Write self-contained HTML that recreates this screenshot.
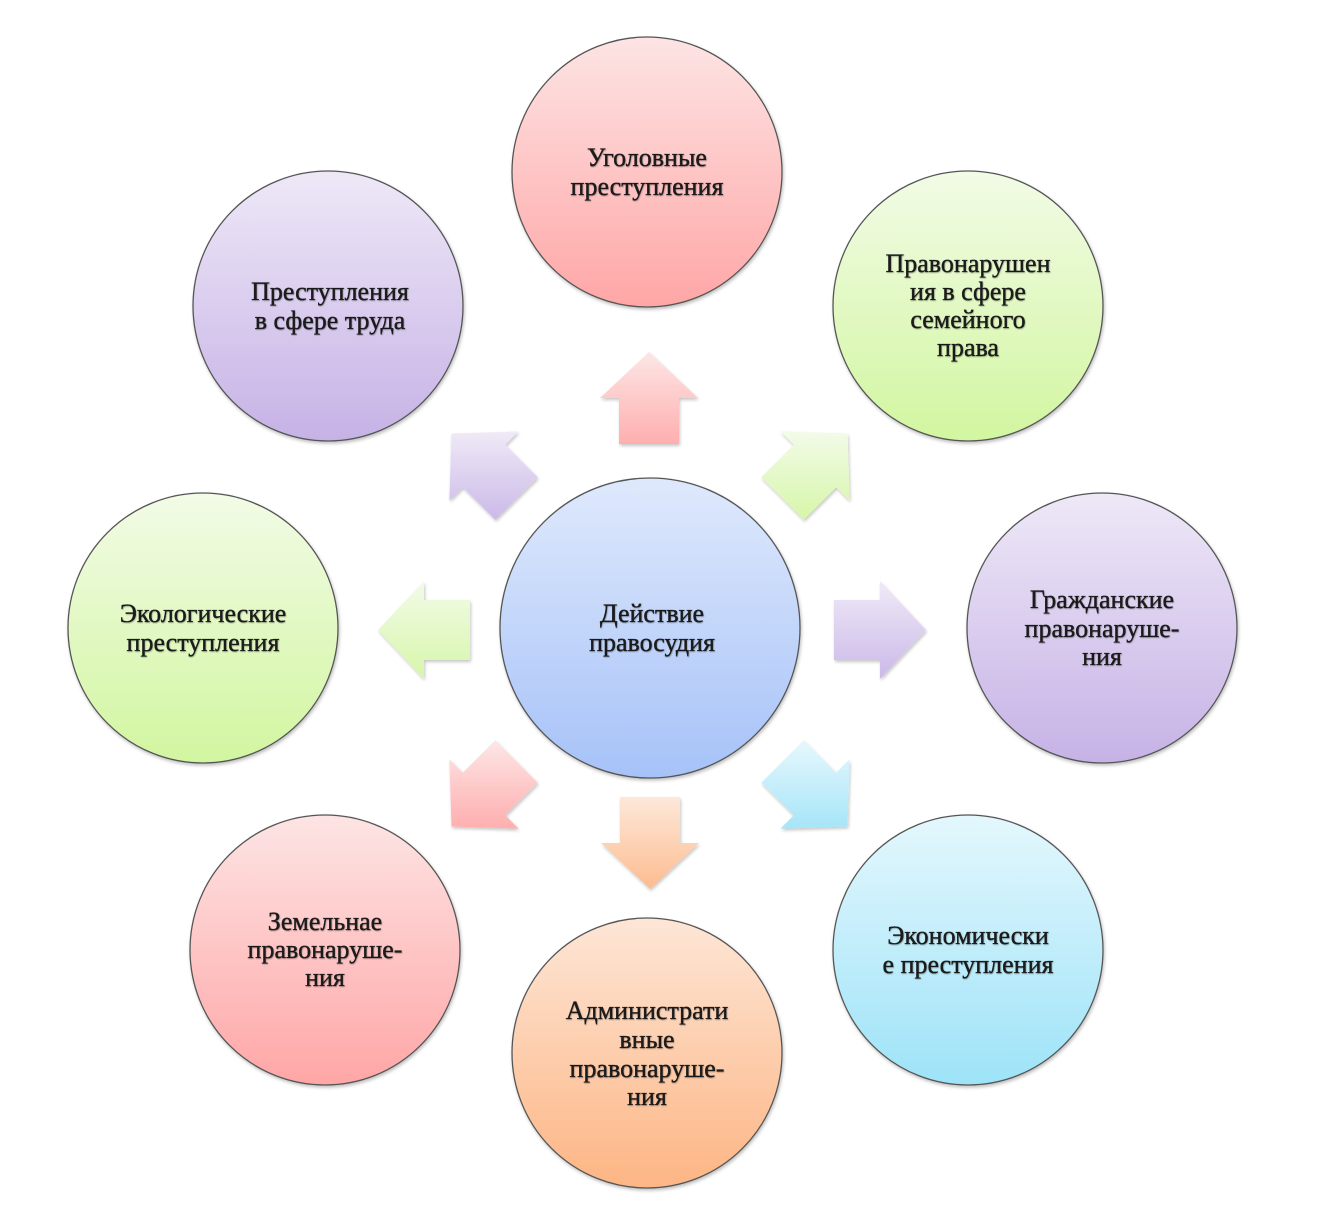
<!DOCTYPE html>
<html><head><meta charset="utf-8"><style>
html,body{margin:0;padding:0;background:#fff;}
svg{display:block;}
text{font-family:"Liberation Serif",serif;font-size:26px;fill:#1a1a1a;stroke:#1a1a1a;stroke-width:0.35px;text-anchor:middle;}
</style></head><body>
<svg width="1321" height="1232" viewBox="0 0 1321 1232" xmlns="http://www.w3.org/2000/svg">
<defs>
<linearGradient id="pink" x1="0" y1="0" x2="0" y2="1"><stop offset="0" stop-color="#fde4e4"/><stop offset="1" stop-color="#ffa6a6"/></linearGradient>
<linearGradient id="green" x1="0" y1="0" x2="0" y2="1"><stop offset="0" stop-color="#f2fbe6"/><stop offset="1" stop-color="#d2f6a0"/></linearGradient>
<linearGradient id="purple" x1="0" y1="0" x2="0" y2="1"><stop offset="0" stop-color="#eee8f7"/><stop offset="1" stop-color="#c6b2e6"/></linearGradient>
<linearGradient id="blue" x1="0" y1="0" x2="0" y2="1"><stop offset="0" stop-color="#dfe9fc"/><stop offset="1" stop-color="#a6c2f8"/></linearGradient>
<linearGradient id="cyan" x1="0" y1="0" x2="0" y2="1"><stop offset="0" stop-color="#e4f7fd"/><stop offset="1" stop-color="#9de3f8"/></linearGradient>
<linearGradient id="orange" x1="0" y1="0" x2="0" y2="1"><stop offset="0" stop-color="#fde6d6"/><stop offset="1" stop-color="#fdb584"/></linearGradient>
<filter id="sh" x="-10%" y="-10%" width="120%" height="120%"><feDropShadow dx="1" dy="2" stdDeviation="1.5" flood-color="#000" flood-opacity="0.25"/></filter>
<filter id="ts"><feDropShadow dx="0.6" dy="0.8" stdDeviation="0.6" flood-color="#000" flood-opacity="0.35"/></filter>
</defs>
<g stroke="#555" stroke-width="1.3" filter="url(#sh)">
<circle cx="647" cy="172" r="135" fill="url(#pink)"/>
<circle cx="968" cy="306" r="135" fill="url(#green)"/>
<circle cx="1102" cy="628" r="135" fill="url(#purple)"/>
<circle cx="968" cy="950" r="135" fill="url(#cyan)"/>
<circle cx="647" cy="1053" r="135" fill="url(#orange)"/>
<circle cx="325" cy="950" r="135" fill="url(#pink)"/>
<circle cx="203" cy="628" r="135" fill="url(#green)"/>
<circle cx="328" cy="306" r="135" fill="url(#purple)"/>
<circle cx="650" cy="628" r="150" fill="url(#blue)"/>
</g>
<g filter="url(#sh)" opacity="0.9">
<polygon fill="url(#pink)" points="649,352 698,398 679,398 679,444 619,444 619,398 600,398"/>
<polygon fill="url(#purple)" points="926,630 880,679 880,660 834,660 834,600 880,600 880,581"/>
<polygon fill="url(#orange)" points="650,889 601,843 620,843 620,797 680,797 680,843 699,843"/>
<polygon fill="url(#green)" points="378,630 424,581 424,600 470,600 470,660 424,660 424,679"/>
<polygon fill="url(#green)" points="847.5,433.5 849.6,500.6 836.2,487.2 803.7,519.7 761.3,477.3 793.8,444.8 780.4,431.4"/>
<polygon fill="url(#purple)" points="451.5,433.5 449.4,500.6 462.8,487.2 495.3,519.7 537.7,477.3 505.2,444.8 518.6,431.4"/>
<polygon fill="url(#cyan)" points="847.5,826.5 849.6,759.4 836.2,772.8 803.7,740.3 761.3,782.7 793.8,815.2 780.4,828.6"/>
<polygon fill="url(#pink)" points="451.5,826.5 449.4,759.4 462.8,772.8 495.3,740.3 537.7,782.7 505.2,815.2 518.6,828.6"/>
</g>
<g filter="url(#ts)">
<text x="647" y="166">Уголовные</text><text x="647" y="195">преступления</text>
<text x="968" y="272">Правонарушен</text><text x="968" y="300">ия в сфере</text><text x="968" y="328">семейного</text><text x="968" y="356">права</text>
<text x="330" y="300">Преступления</text><text x="330" y="329">в сфере  труда</text>
<text x="1102" y="608">Гражданские</text><text x="1102" y="637">правонаруше-</text><text x="1102" y="665">ния</text>
<text x="203" y="622">Экологические</text><text x="203" y="651">преступления</text>
<text x="652" y="622">Действие</text><text x="652" y="651">правосудия</text>
<text x="968" y="944">Экономически</text><text x="968" y="973">е преступления</text>
<text x="647" y="1019">Администрати</text><text x="647" y="1048">вные</text><text x="647" y="1077">правонаруше-</text><text x="647" y="1105">ния</text>
<text x="325" y="930">Земельнае</text><text x="325" y="958">правонаруше-</text><text x="325" y="986">ния</text>
</g>
</svg>
</body></html>
